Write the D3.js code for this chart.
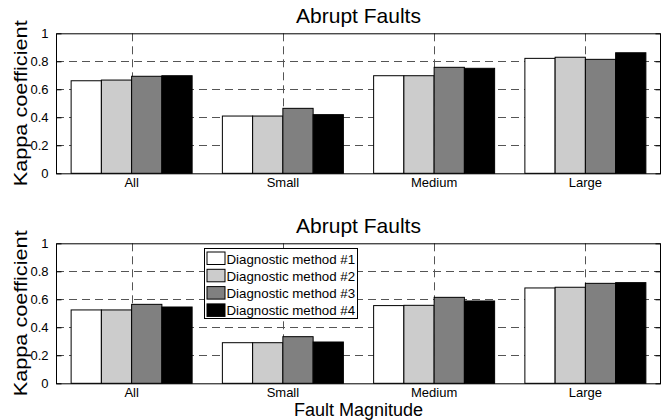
<!DOCTYPE html>
<html>
<head>
<meta charset="utf-8">
<script src="https://cdn.jsdelivr.net/npm/d3@7"></script>
<style>
  html, body { margin: 0; padding: 0; background: #fff; }
  svg { display: block; font-family: "Liberation Sans", Arial, Helvetica, sans-serif; }
</style>
</head>
<body>
<svg id="chart" width="665" height="420"></svg>
<script>
// ---- data ----
const categories = ["All", "Small", "Medium", "Large"];
const seriesNames = ["Diagnostic method #1", "Diagnostic method #2", "Diagnostic method #3", "Diagnostic method #4"];
const seriesColors = ["#ffffff", "#cccccc", "#808080", "#000000"];
const yTickValues = [0, 0.2, 0.4, 0.6, 0.8, 1];
const yTickLabels = ["0", "0.2", "0.4", "0.6", "0.8", "1"];

// top panel values (per method, per category)
const topM1 = [0.661, 0.409, 0.697, 0.821];
const topM2 = [0.666, 0.409, 0.697, 0.829];
const topM3 = [0.693, 0.464, 0.757, 0.814];
const topM4 = [0.697, 0.419, 0.750, 0.861];
// bottom panel values
const botM1 = [0.524, 0.290, 0.555, 0.681];
const botM2 = [0.524, 0.290, 0.557, 0.686];
const botM3 = [0.564, 0.333, 0.614, 0.714];
const botM4 = [0.545, 0.295, 0.588, 0.719];

const panels = [
  { title: "Abrupt Faults", values: [topM1, topM2, topM3, topM4], top: 33.3, legend: false },
  { title: "Abrupt Faults", values: [botM1, botM2, botM3, botM4], top: 243.3, legend: true }
];

const svg = d3.select("#chart");
const left = 56, right = 661, plotH = 140;

const x = d3.scaleBand().domain(categories).range([left, right]).paddingInner(0.2).paddingOuter(0.1);
const xs = d3.scaleBand().domain(d3.range(seriesNames.length)).range([0, x.bandwidth()]).padding(0);

panels.forEach(p => {
  const y = d3.scaleLinear().domain([0, 1]).range([p.top + plotH, p.top]);
  const g = svg.append("g");

  // grid (dashed) behind bars
  const gridG = g.append("g").attr("stroke", "#555").attr("stroke-width", 1).attr("stroke-dasharray", "8,5");
  gridG.selectAll("line.hy").data(yTickValues.slice(1, -1)).join("line")
    .attr("x1", left).attr("x2", right)
    .attr("y1", d => Math.round(y(d)) + 0.5).attr("y2", d => Math.round(y(d)) + 0.5);
  gridG.selectAll("line.vx").data(categories).join("line")
    .attr("x1", d => Math.round(x(d) + x.bandwidth() / 2) + 0.5)
    .attr("x2", d => Math.round(x(d) + x.bandwidth() / 2) + 0.5)
    .attr("y1", p.top).attr("y2", p.top + plotH);

  // bars
  const flat = [];
  p.values.forEach((arr, si) => arr.forEach((v, ci) => flat.push({ si, ci, v })));
  g.append("g").selectAll("rect").data(flat).join("rect")
    .attr("x", d => x(categories[d.ci]) + xs(d.si))
    .attr("width", xs.bandwidth())
    .attr("y", d => y(d.v))
    .attr("height", d => y(0) - y(d.v))
    .attr("fill", d => seriesColors[d.si])
    .attr("stroke", "#000").attr("stroke-width", 1);

  // box
  g.append("rect").attr("x", left + 0.5).attr("y", p.top + 0.5)
    .attr("width", right - left - 1).attr("height", plotH)
    .attr("fill", "none").attr("stroke", "#000").attr("stroke-width", 1);

  // y axis (ticks inward) left
  const yAxisL = d3.axisLeft(y).tickValues(yTickValues).tickSize(-5).tickPadding(8)
    .tickFormat((d, i) => yTickLabels[i]);
  const ga = g.append("g").attr("transform", `translate(${left + 0.5},0)`).call(yAxisL);
  ga.select(".domain").remove();
  ga.selectAll("text").attr("font-size", 13).attr("fill", "#000")
    .attr("font-family", '"Liberation Sans", Arial, sans-serif');
  ga.selectAll("line").attr("stroke", "#000");

  // right ticks
  const yAxisR = d3.axisRight(y).tickValues(yTickValues).tickSize(-5).tickFormat("");
  const gr = g.append("g").attr("transform", `translate(${right - 0.5},0)`).call(yAxisR);
  gr.select(".domain").remove();
  gr.selectAll("line").attr("stroke", "#000");

  // x axis labels
  const xAxis = d3.axisBottom(x).tickSize(0).tickPadding(4);
  const gx = g.append("g").attr("transform", `translate(0,${p.top + plotH})`).call(xAxis);
  gx.select(".domain").remove();
  gx.selectAll("text").attr("font-size", 13).attr("fill", "#000").attr("dy", "0.71em")
    .attr("font-family", '"Liberation Sans", Arial, sans-serif');

  // title
  g.append("text").attr("x", (left + right) / 2).attr("y", p.top - 10.8)
    .attr("text-anchor", "middle").attr("font-size", 21).attr("fill", "#000").text(p.title);

  // y label
  const cy = p.top + plotH / 2;
  g.append("text").attr("transform", `translate(27,${cy}) rotate(-90)`)
    .attr("text-anchor", "middle").attr("font-size", 19).attr("fill", "#000")
    .attr("textLength", 166).attr("lengthAdjust", "spacingAndGlyphs")
    .text("Kappa coefficient");

  if (p.legend) {
    const lx = 204.5, ly = 248.5, lw = 153, lh = 70;
    const lg = g.append("g");
    lg.append("rect").attr("x", lx).attr("y", ly).attr("width", lw).attr("height", lh)
      .attr("fill", "#fff").attr("stroke", "#000").attr("stroke-width", 1);
    seriesNames.forEach((name, i) => {
      const ry = ly + 3.5 + i * 17.3;
      lg.append("rect").attr("x", lx + 2.5).attr("y", ry).attr("width", 18).attr("height", 12.5)
        .attr("fill", seriesColors[i]).attr("stroke", "#000").attr("stroke-width", 1);
      lg.append("text").attr("x", lx + 22).attr("y", ry + 11.5)
        .attr("font-size", 13.3).attr("fill", "#000").text(name);
    });
  }
});

// x label
svg.append("text").attr("x", (left + right) / 2).attr("y", 416)
  .attr("text-anchor", "middle").attr("font-size", 18).attr("fill", "#000").text("Fault Magnitude");
</script>
</body>
</html>
